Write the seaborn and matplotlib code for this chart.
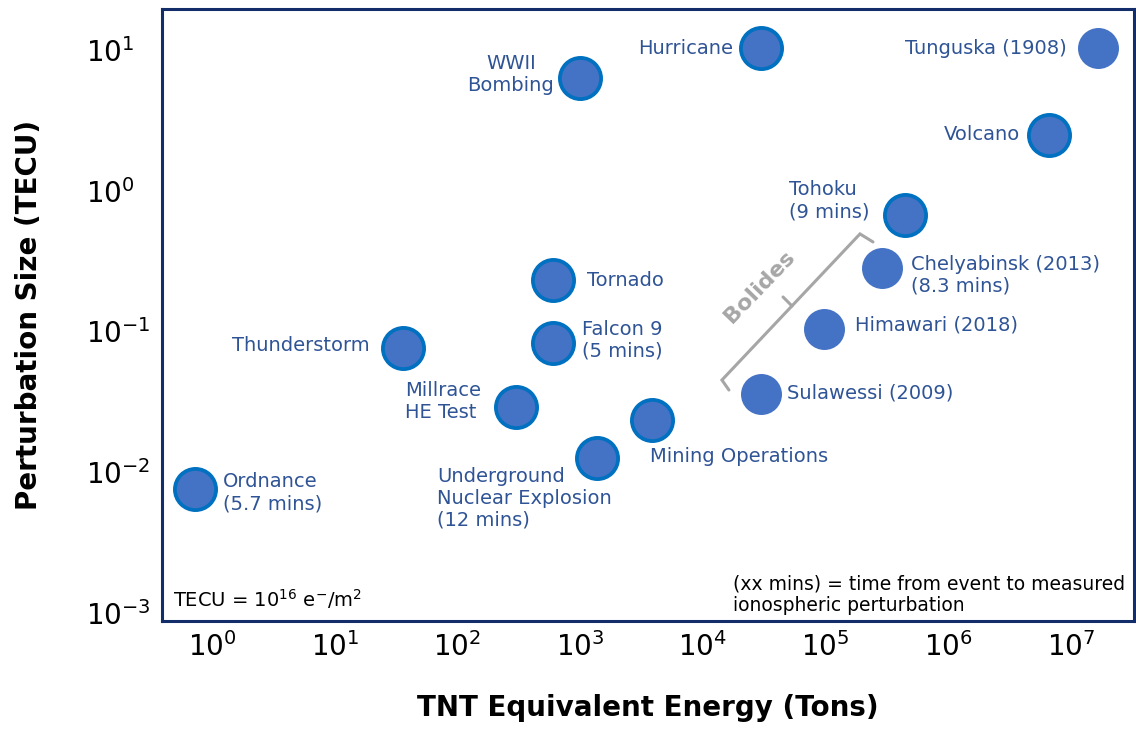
import numpy as np
import pandas as pd
import matplotlib
matplotlib.use('Agg')
import matplotlib.pyplot as plt
import seaborn as sns

# event data (TNT tons vs TECU)
events = ['Ordnance\n(5.7 mins)', 'Thunderstorm', 'Millrace\nHE Test',
          'Underground\nNuclear Explosion\n(12 mins)', 'Mining Operations',
          'Falcon 9\n(5 mins)', 'Tornado', 'WWII\nBombing', 'Hurricane',
          'Tunguska (1908)', 'Volcano', 'Tohoku\n(9 mins)',
          'Chelyabinsk (2013)\n(8.3 mins)', 'Himawari (2018)', 'Sulawessi (2009)']
energy_tons = [0.727, 36, 300, 1374, 3855, 601, 601, 998, 29800,
               1.66e7, 6.62e6, 4.45e5, 2.88e5, 9.72e4, 2.98e4]
tecu = [0.0076, 0.0764, 0.0291, 0.0126, 0.0235, 0.0828, 0.232, 6.33, 10.3,
        10.3, 2.49, 0.673, 0.282, 0.104, 0.036]
bolide = [False, False, False, False, False, False, False, False, False,
          True, False, False, True, True, True]

x_ticks = [1e0, 1e1, 1e2, 1e3, 1e4, 1e5, 1e6, 1e7]
y_ticks = [1e-3, 1e-2, 1e-1, 1e0, 1e1]

df = pd.DataFrame({'event': events, 'energy': energy_tons,
                   'tecu': tecu, 'bolide': bolide})

# label placement: (dx, dy) in pixels, ha, multialignment
label_layout = [(28, -4, 'left', 'left'), (-33, 2, 'right', 'right'),
                (-35, 5, 'right', 'left'), (-160, -40, 'left', 'left'),
                (-2, -37, 'left', 'left'), (29, 3, 'left', 'left'),
                (34, 0, 'left', 'left'), (-69, 3, 'center', 'center'),
                (-28, 0, 'right', 'right'), (-31, 0, 'right', 'right'),
                (-29, 0, 'right', 'right'), (-36, 14, 'right', 'left'),
                (29, -7, 'left', 'left'), (31, 4, 'left', 'left'),
                (26, 1, 'left', 'left')]

sns.set_theme(style='white')
plt.rcParams['font.family'] = ['DejaVu Sans']

fill = '#4472C4'
edge = '#0070C0'
text_blue = '#2F5496'
navy = '#132D6B'
grey = '#A6A6A6'

fig = plt.figure(figsize=(11.36, 7.36), dpi=100)
ax = fig.add_axes([162 / 1136, 115 / 736, 972 / 1136, 612 / 736])

sns.scatterplot(data=df[~df['bolide']], x='energy', y='tecu', s=880,
                color=fill, edgecolor=edge, linewidth=2.7, ax=ax, zorder=3)
sns.scatterplot(data=df[df['bolide']], x='energy', y='tecu', s=870,
                color=fill, edgecolor=fill, linewidth=0, ax=ax, zorder=3)

ax.set_xscale('log')
ax.set_yscale('log')
ax.set_xticks(x_ticks)
ax.set_yticks(y_ticks)
ax.minorticks_off()
ax.set_xlim(10 ** -0.407, 10 ** 7.514)
ax.set_ylim(10 ** -3.057, 10 ** 1.291)

for (name, xv, yv), (dx, dy, ha, ma) in zip(zip(events, energy_tons, tecu), label_layout):
    ax.annotate(name, (xv, yv), xytext=(dx, dy), textcoords='offset pixels',
                ha=ha, va='center', multialignment=ma, fontsize=14,
                color=text_blue, zorder=4)

# bolides bracket
bx = 10 ** np.array([4.213, 4.156, 5.281, 5.387])
by = 10 ** np.array([-1.416, -1.345, -0.307, -0.364])
ax.plot(bx, by, color=grey, lw=2.2, solid_joinstyle='miter', zorder=2)
ax.plot(10 ** np.array([4.727, 4.654]), 10 ** np.array([-0.819, -0.755]),
        color=grey, lw=2.2, zorder=2)
ax.text(10 ** 4.462, 10 ** -0.684, 'Bolides', rotation=46, ha='center',
        va='center', fontsize=16, fontweight='bold', color=grey,
        rotation_mode='anchor')

ax.text(0.011, 0.017, r'TECU = 10$^{16}$ e$^{-}$/m$^{2}$', transform=ax.transAxes,
        fontsize=14, color='black', ha='left', va='bottom')
ax.text(0.587, 0.010, '(xx mins) = time from event to measured\nionospheric perturbation',
        transform=ax.transAxes, fontsize=13.5, color='black', ha='left',
        va='bottom', linespacing=1.15)

for side in ax.spines.values():
    side.set_color(navy)
    side.set_linewidth(2.2)

ax.tick_params(axis='x', length=0, pad=8, labelsize=20, colors='black')
ax.tick_params(axis='y', length=0, pad=55, labelsize=20, colors='black')
for lbl in ax.get_yticklabels():
    lbl.set_ha('left')

ax.set_xlabel('TNT Equivalent Energy (Tons)', fontsize=20, fontweight='bold',
              color='black')
ax.set_ylabel('Perturbation Size (TECU)', fontsize=20, fontweight='bold',
              color='black')
ax.xaxis.set_label_coords(0.5, -0.119)
ax.yaxis.set_label_coords(-0.122, 0.5)

fig.savefig('out.png', dpi=100)
